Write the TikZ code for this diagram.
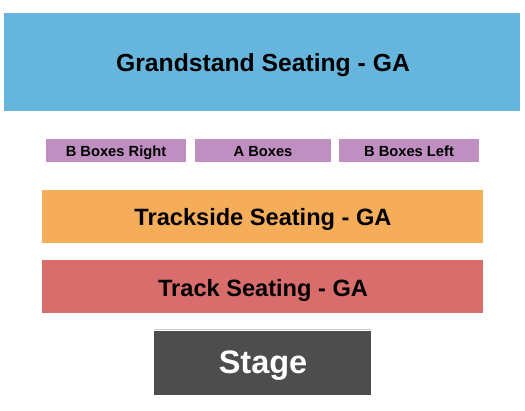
\documentclass[tikz,border=0pt]{standalone}
\usepackage{fontspec}
\setmainfont{Liberation Sans}
\definecolor{gsblue}{HTML}{66B5DD}
\definecolor{boxpurple}{HTML}{BF8FC2}
\definecolor{trkorange}{HTML}{F5AD5A}
\definecolor{trkred}{HTML}{D96D6B}
\definecolor{stagegray}{HTML}{4D4D4D}
\begin{document}
\begin{tikzpicture}[x=1pt,y=-1pt,
  lbl/.style={text=black, anchor=base, inner sep=0pt}]
\useasboundingbox (0,0) rectangle (525,410);
\fill[white] (0,0) rectangle (525,410);
% Grandstand
\fill[gsblue] (4,13) rectangle (520,111);
\node[lbl, font=\fontsize{24.7}{28}\selectfont\bfseries] (gs) at (263,71.8) {Grandstand Seating - GA};
% Boxes
\fill[boxpurple] (46,139) rectangle (186,162);
\node[lbl, font=\fontsize{14.7}{17}\selectfont\bfseries] (bbr) at (116,156) {B Boxes Right};
\fill[boxpurple] (195,139) rectangle (331,162);
\node[lbl, font=\fontsize{14.7}{17}\selectfont\bfseries] (ab) at (263,156) {A Boxes};
\fill[boxpurple] (339,139) rectangle (479,162);
\node[lbl, font=\fontsize{14.7}{17}\selectfont\bfseries] (bbl) at (409,156) {B Boxes Left};
% Trackside
\fill[trkorange] (42,190) rectangle (483,243);
\node[lbl, font=\fontsize{23.6}{27}\selectfont\bfseries] (ts) at (263,225.5) {Trackside Seating - GA};
% Track
\fill[trkred] (42,260) rectangle (483,313);
\node[lbl, font=\fontsize{23.6}{27}\selectfont\bfseries] (tr) at (263,296.5) {Track Seating - GA};
% Stage
\draw[gray!40, line width=0.8] (154,329.5) -- (371,329.5);
\fill[stagegray] (154,331) rectangle (371,395);
\node[lbl, font=\fontsize{32.5}{36}\selectfont\bfseries, text=white] (st) at (263,373.3) {Stage};
\end{tikzpicture}
\end{document}
